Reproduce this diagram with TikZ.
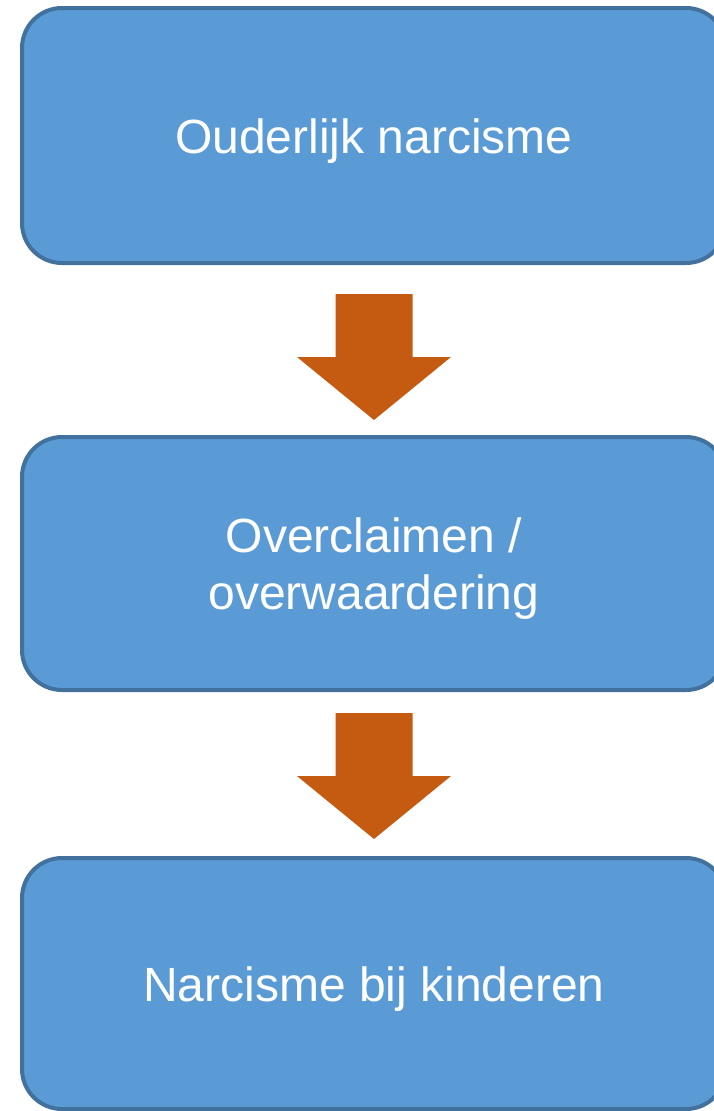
\documentclass[tikz,border=0pt]{standalone}
\usepackage{fontspec}
\setmainfont{Liberation Sans}
\usetikzlibrary{calc}
\definecolor{boxfill}{HTML}{5B9BD5}
\definecolor{boxline}{HTML}{41719C}
\definecolor{arrowfill}{HTML}{C55A11}
\begin{document}
\begin{tikzpicture}[x=1pt,y=-1pt,
  flowbox/.style={draw=boxline, fill=boxfill, line width=4pt, rounded corners=40pt,
    minimum width=704pt, inner sep=0pt, text=white, align=center,
    font=\fontsize{48}{57}\selectfont},
  oneline/.style={text height=35pt, text depth=0pt},
  bigarrow/.style={fill=arrowfill, draw=none}]
\useasboundingbox (0,0) rectangle (713,1111);
\node[flowbox, oneline, minimum height=255pt] (b1) at (374,135.5) {Ouderlijk narcisme};
\node[flowbox, text depth=0pt, minimum height=253pt] (b2) at (374,563.5) {Overclaimen /\\overwaardering};
\node[flowbox, oneline, minimum height=251pt] (b3) at (374,983.5) {Narcisme bij kinderen};
% arrows between boxes
\foreach \s/\d in {b1/29, b2/21} {
  \path ($(\s.south)+(0,\d)$) coordinate (top);
  \fill[bigarrow] ($(top)+(-38.5,0)$) -- ($(top)+(38.5,0)$) -- ($(top)+(38.5,63)$)
    -- ($(top)+(77,63)$) -- ($(top)+(0,126)$) -- ($(top)+(-77,63)$)
    -- ($(top)+(-38.5,63)$) -- cycle;
}
\end{tikzpicture}
\end{document}
